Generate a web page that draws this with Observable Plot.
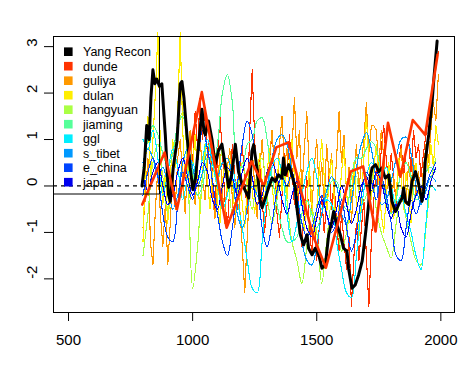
<!DOCTYPE html>
<html><head><meta charset="utf-8">
<script src="https://cdn.jsdelivr.net/npm/d3@7"></script>
<script src="https://cdn.jsdelivr.net/npm/@observablehq/plot@0.6"></script>
<style>
body{margin:0;background:#fff;}
#chart svg{display:block;}
</style></head><body><div id="chart"></div>
<script>
// ---- Data ----
const legendNames = ["Yang Recon","dunde","guliya","dulan","hangyuan","jiaming","ggl","s_tibet","e_china","japan"];
const legendColors = ["#000000","#FF3300","#FF9900","#FFEE00","#AAFF44","#55FF99","#00EEFF","#0099FF","#0044FF","#0000EE"];
const xTicks = [500, 1000, 1500, 2000];
const yTicks = [-2, -1, 0, 1, 2, 3];

const yangYears = [796,805,815,825,832,840,848,856,866,876,
  890,903,910,922,937,950,957,965,977,990,
  1001,1012,1024,1038,1045,1051,1064,1078,1091,1104,
  1118,1131,1145,1158,1172,1185,1199,1212,1226,1239,
  1246,1259,1272,1280,1293,1306,1320,1333,1346,1360,
  1366,1373,1387,1400,1414,1420,1434,1447,1461,1467,
  1481,1494,1508,1521,1535,1548,1561,1568,1581,1595,
  1608,1622,1628,1642,1655,1669,1683,1696,1709,1716,
  1723,1737,1750,1763,1776,1790,1803,1817,1830,1844,
  1850,1857,1871,1884,1898,1911,1924,1931,1937,1951,
  1965,1971,1978,1985];
const yangValues = [0.0,0.4,1.3,1.0,1.9,2.5,2.2,2.3,2.15,2.2,
  1.1,-0.19,-0.33,0.4,0.96,2.2,2.25,1.9,1.1,0.4,
  -0.08,0.18,0.9,1.65,1.2,1.1,1.4,1.0,0.45,0.76,
  0.9,0.47,-0.03,0.26,0.9,0.3,0.05,-0.1,-0.26,0.75,
  0.89,0.39,-0.3,-0.47,-0.26,-0.04,0.17,0.1,0.24,0.17,
  0.6,0.24,0.46,0.24,-0.04,-0.47,-1.05,-1.27,-1.05,-1.34,
  -1.48,-1.34,-1.48,-1.77,-1.70,-1.05,-0.76,-0.55,-0.83,-1.05,
  -1.34,-1.41,-1.77,-2.2,-2.13,-1.91,-1.62,-1.05,-0.4,0.2,
  0.39,0.46,0.31,0.39,0.17,0.24,-0.33,-0.55,-0.4,-0.26,
  -0.04,-0.33,-0.4,0.1,0.31,0.03,-0.33,-0.12,0.53,1.1,
  1.82,2.25,2.69,3.12];

// thick red (50-year) series
const dunde50Years = [797,837,887,937,987,1037,1087,1137,1187,1237,1287,1337,1387,1437,1487,1537,1587,1637,1687,1737,1787,1837,1887,1937,1987];
const dunde50Values = [-0.4,0.1,0.72,-0.5,0.76,2.02,0.55,-0.9,-0.2,0.53,0.0,0.83,0.94,-0.12,-1.1,-1.76,-0.76,0.31,0.42,-0.98,1.36,0.2,1.42,1.1,2.83];

// decadal jagged series
const years10 = d3.range(800, 2000, 10);
const years10b = d3.range(1000, 2000, 10);
const dundeValues = [
  0.5,1.6,0.8,1.9,1.0,1.7,0.6,1.2,0.2,-0.5,
  0.6,1.5,0.7,-0.3,-0.9,0.0,0.9,0.2,-0.5,0.4,
  0.9,0.1,-0.6,1.2,2.5,1.0,0.0,0.6,-0.3,-1.0,
  -0.4,0.5,1.2,0.3,-0.6,-1.1,-0.2,0.7,0.2,1.1,
  0.4,-0.4,0.3,-0.7,-1.3,-0.5,0.2,-0.8,-1.5,-0.7,
  -1.6,-0.9,-0.2,-1.0,-0.4,0.3,-0.5,0.1,-0.8,-1.4,
  -0.6,-1.2,-1.8,-1.1,-2.6,-1.5,-0.8,-1.6,-0.9,-0.3,
  -1.5,-2.6,-1.2,-0.3,0.4,-0.2,0.8,1.3,0.6,0.0,
  0.7,0.2,-0.4,0.5,0.9,0.2,0.8,1.0,0.3,1.2,
  0.6,0.9,0.2,0.7,1.1,1.5,1.8,2.2,2.6,2.9];
const guliyaValues = [
  -0.9,-0.2,0.6,-1.2,-1.7,-0.5,0.4,-0.6,-1.3,-0.4,
  -1.7,-0.8,0.3,-0.5,0.6,1.0,0.2,-0.6,0.5,1.2,
  0.3,-0.4,0.6,1.1,0.2,-0.3,0.5,0.9,-0.2,-0.7,
  0.0,0.7,-0.1,-0.8,0.4,0.8,-0.3,-0.9,0.2,-0.5,
  -1.3,-2.3,-1.1,0.1,0.8,0.0,-0.7,0.3,1.0,0.2,
  -0.4,0.6,1.2,0.3,-0.2,0.9,1.5,0.4,0.8,0.0,
  0.7,1.9,0.6,1.2,-0.1,0.8,1.6,0.3,-0.6,0.4,
  1.0,-0.2,0.5,-0.4,0.9,0.2,0.7,-0.3,0.6,1.6,
  0.5,1.1,-0.2,0.4,-0.8,0.2,0.9,-0.1,0.5,1.0,
  1.8,0.7,1.3,1.3,1.2,0.4,1.2,0.6,-0.2,0.3,
  -0.6,0.2,-0.3,0.4,0.8,0.1,-0.4,0.5,0.0,0.6,
  -0.2,0.3,-0.3,0.4,0.9,0.5,1.2,1.8,1.4,2.4];
const dulanValues = [
  -1.2,0.5,1.5,0.2,1.0,2.0,3.3,0.8,-0.4,0.3,
  -0.8,0.2,1.0,0.4,1.6,3.3,1.2,0.2,0.7,-0.3,
  0.4,1.1,0.2,-0.6,0.3,0.9,0.1,-0.5,0.2,0.7,
  -0.3,-0.8,0.1,0.5,-0.2,0.6,0.1,-0.6,-0.2,0.4,
  -0.4,-0.9,0.0,0.5,-0.1,-0.6,0.2,0.7,0.1,-0.4,
  0.3,0.8,0.0,-0.5,0.2,0.6,-0.1,0.4,-0.3,0.5,
  1.0,0.2,-0.5,0.3,-0.2,-1.0,-0.4,0.4,-0.3,-1.2,
  -0.5,0.3,1.0,0.2,-0.6,0.1,0.6,-0.2,-1.0,-0.4,
  0.3,0.8,-0.1,-0.8,-0.2,0.5,-0.4,-1.1,-0.3,0.6,
  1.5,0.5,-0.3,0.4,0.9,0.1,-0.6,-1.0,-0.2,0.5,
  0.0,-0.7,-0.2,0.6,0.2,-0.5,0.3,-0.2,-0.8,0.1,
  0.5,-0.1,-0.4,0.2,0.8,0.3,0.9,0.4,1.3,0.9];

// smoother 20-year series
const years20 = d3.range(800, 2000, 20);
const hangyuanValues = [
  -1.5,-0.6,0.5,0.9,0.2,-0.6,0.3,1.2,1.6,0.4,
  -2.2,-1.3,0.2,0.9,0.5,0.0,0.8,0.3,-0.6,-0.2,
  0.5,0.0,-0.5,0.3,0.6,-0.2,-0.8,-0.3,0.4,-0.3,
  -1.2,-1.6,-2.1,-1.3,-0.5,-1.0,-2.1,-1.2,-0.4,-0.7,
  -1.4,-1.0,-0.3,0.2,-0.4,-0.2,0.3,-0.5,-1.0,-1.3,
  -1.55,-0.8,-0.2,-0.7,-1.2,-1.6,-1.7,-0.9,0.1,0.6];
const jiamingValues = [
  0.4,1.0,1.3,1.1,0.7,0.4,0.7,1.3,1.5,1.0,
  0.3,-0.2,0.0,0.6,0.4,0.9,2.0,2.4,1.8,0.5,
  0.4,0.9,1.0,1.4,1.47,1.0,0.2,-0.4,-0.9,-1.2,
  -1.2,-1.1,-0.6,-0.3,-0.6,-0.9,-0.6,-0.2,0.1,0.1,
  -0.3,-0.5,0.2,0.6,0.6,0.8,0.95,0.8,0.2,-0.3,
  -0.6,-0.3,0.3,0.5,0.2,-0.3,-0.2,0.3,0.4,0.3];
const gglValues = [
  1.0,0.8,1.2,0.6,-0.2,0.3,0.8,0.4,-0.3,0.2,
  0.5,0.1,0.6,1.0,0.5,0.0,-0.5,-0.2,0.4,-0.3,
  -0.9,-1.6,-2.2,-2.3,-1.2,-0.2,0.4,0.6,0.3,-0.6,
  -1.2,-0.8,-0.2,0.3,0.6,0.2,-0.5,-0.3,-0.4,-1.2,
  -1.8,-2.3,-2.4,-1.5,-0.5,0.2,0.5,0.4,0.2,0.4,
  0.0,-0.4,-0.2,-0.6,-1.0,-1.5,-1.8,-0.8,0.0,-0.1];
const sTibetValues = [
  0.5,0.8,0.6,0.2,0.4,0.0,-0.5,-0.2,0.5,0.8,
  0.4,0.0,0.3,0.7,0.6,0.2,0.5,0.6,0.2,-0.6,
  -0.9,-0.5,0.0,-0.2,-0.4,0.0,0.6,1.0,1.1,0.9,
  0.3,-0.6,-1.2,-1.6,-1.7,-1.3,-0.6,-0.1,0.2,0.0,
  -0.6,-0.8,-0.3,0.4,0.9,1.15,0.8,0.1,-0.4,-0.3,
  0.1,0.6,1.0,1.05,0.7,0.0,-0.4,-0.1,0.2,0.1];
const eChinaValues = [
  -0.2,0.3,0.6,0.2,-0.6,-1.1,-1.2,-0.4,0.3,0.0,
  -0.3,0.5,1.2,0.8,0.1,-0.6,-1.2,-1.5,-0.9,0.0,
  0.9,1.4,1.1,0.2,-0.9,-1.3,-0.8,-0.1,0.2,0.0,
  0.3,-0.2,-0.8,-1.1,-0.9,-0.5,-0.2,-0.6,-1.0,-0.8,
  -0.3,-0.9,-1.4,-1.0,-0.2,0.3,0.1,-0.3,0.2,-0.2,
  -0.8,-1.5,-1.6,-0.9,-0.3,-0.6,-0.3,0.0,0.3,0.5];
const japanValues = [
  0.2,-0.1,0.3,0.5,0.0,-0.4,-0.2,0.3,0.6,0.2,
  -0.2,0.1,0.5,0.3,-0.3,-0.5,0.0,0.4,0.2,-0.2,
  0.3,0.6,0.2,-0.4,-0.2,0.3,0.5,0.2,-0.3,-0.6,
  -0.2,0.1,-0.4,-0.9,-1.1,-0.7,-0.3,-0.6,-0.9,-0.5,
  0.0,-0.4,-0.8,-0.5,0.0,0.2,-0.1,0.3,0.1,-0.4,
  -0.7,-0.4,-0.9,-1.1,-0.6,-0.2,0.0,-0.3,0.1,0.4];

// ---- Build rows ----
const rows = (xs, vs) => xs.map((x, i) => ({x, y: vs[i]}));
const C = Object.fromEntries(legendNames.map((n, i) => [n, legendColors[i]]));
const thin = [
  {d: rows(years10b, dundeValues), c: C.dunde, curve: "linear"},
  {d: rows(years10, guliyaValues), c: C.guliya, curve: "linear"},
  {d: rows(years10, dulanValues), c: C.dulan, curve: "linear"},
  {d: rows(years20, hangyuanValues), c: C.hangyuan, curve: "catmull-rom"},
  {d: rows(years20, jiamingValues), c: C.jiaming, curve: "catmull-rom"},
  {d: rows(years20, gglValues), c: C.ggl, curve: "catmull-rom"},
  {d: rows(years20, sTibetValues), c: C.s_tibet, curve: "catmull-rom"},
  {d: rows(years20, eChinaValues), c: C.e_china, curve: "catmull-rom"},
  {d: rows(years20, japanValues), c: C.japan, curve: "catmull-rom"}
];

const font = "'Liberation Sans', Arial, Helvetica, sans-serif";
const plot = Plot.plot({
  width: 472, height: 365,
  marginLeft: 53, marginRight: 18, marginTop: 36, marginBottom: 53,
  x: {domain: [439.5, 2055], label: null},
  y: {domain: [-2.724, 3.218], label: null},
  style: {fontFamily: font, fontSize: "15px", background: "white", color: "black"},
  marks: [
    ...thin.map(s => Plot.line(s.d, {x: "x", y: "y", stroke: s.c, strokeWidth: 1.1, curve: s.curve, shapeRendering: "crispEdges"})),
    Plot.line(rows(yangYears, yangValues), {x: "x", y: "y", stroke: "black", strokeWidth: 3}),
    Plot.line(rows(dunde50Years, dunde50Values), {x: "x", y: "y", stroke: C.dunde, strokeWidth: 2.6}),
    Plot.ruleY([0], {stroke: "black", strokeDasharray: "4,4", strokeWidth: 1.2}),
    Plot.frame({stroke: "black"}),
    Plot.axisX({ticks: xTicks, tickSize: 9, tickPadding: 13, tickFormat: d => String(d), label: null}),
    Plot.axisY({ticks: yTicks, tickSize: 9, tickFormat: () => "", label: null}),
    Plot.text(yTicks, {y: d => d, frameAnchor: "left", dx: -21, rotate: -90, text: d => String(d), fontSize: 15})
  ]
});

// ---- Legend (top-left, transparent box) ----
const svg = d3.select(plot);
const g = svg.append("g").attr("font-family", font).attr("font-size", 12.5).attr("text-anchor", "start");
g.append("path").attr("d", "M53.5,36.5H159.5V194H53.5Z")
  .attr("fill", "none").attr("stroke", "black").attr("stroke-width", 1);
legendNames.forEach((n, i) => {
  const cy = 51.7 + i * 14.5;
  g.append("rect").attr("x", 64).attr("y", cy - 4.3).attr("width", 8.6).attr("height", 8.6).attr("fill", legendColors[i]);
  g.append("text").attr("x", 83).attr("y", cy).attr("dy", "0.35em").attr("text-anchor", "start").attr("fill", "black").text(n);
});

document.getElementById("chart").appendChild(plot);
</script>
</body></html>
